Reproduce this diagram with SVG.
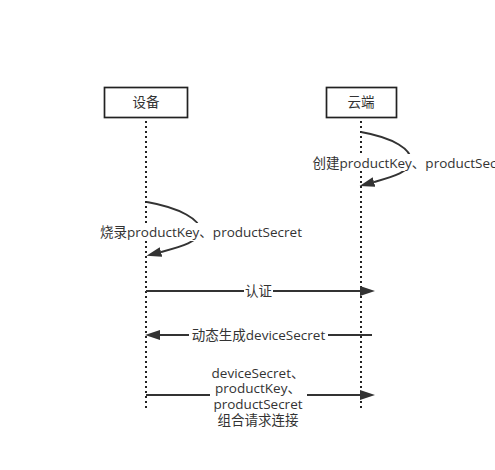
<svg xmlns="http://www.w3.org/2000/svg" width="495" height="470" viewBox="0 0 495 470">
<defs>
<style>
.box{fill:#fff;stroke:#222;stroke-width:1.7}
.life{stroke:#222;stroke-width:2;stroke-dasharray:2 3;fill:none}
.msg{stroke:#333;stroke-width:2;fill:none}
.t{font-family:"Open Sans","Noto Sans CJK SC",sans-serif;font-size:13.5px;fill:#333;text-anchor:middle}
.bg{fill:#fff}
</style>
<marker id="arr" markerUnits="userSpaceOnUse" markerWidth="16" markerHeight="11" refX="0" refY="5" orient="auto" viewBox="0 0 16 10">
<path d="M0,0 L15,5 L0,10 Z" fill="#333"/>
</marker>
</defs>
<rect width="495" height="470" fill="#fff"/>
<g id="device">
<rect class="box" x="104.5" y="87.5" width="83" height="30"/>
<text class="t" x="146" y="107">设备</text>
<line class="life" x1="146" y1="121" x2="146" y2="410"/>
</g>
<g id="cloud">
<rect class="box" x="326.5" y="87.5" width="70" height="30"/>
<text class="t" x="361" y="107">云端</text>
<line class="life" x1="361" y1="121" x2="361" y2="410"/>
</g>
<g id="connectors">
<path class="msg" d="M361,132 C395,138 411,150 411,160 C411,172 392,177 374,182" marker-end="url(#arr)"/>
<rect class="bg" x="308" y="154" width="200" height="17"/>
<text class="t" x="413.5" y="167.5">创建productKey、productSecret</text>

<path class="msg" d="M147,202 C181,208 200,220 200,230 C200,242 180,247 161,252" marker-end="url(#arr)"/>
<rect class="bg" x="97" y="223" width="209" height="18"/>
<text class="t" x="201" y="236.5">烧录productKey、productSecret</text>

<line class="msg" x1="146" y1="291" x2="360" y2="291" marker-end="url(#arr)"/>
<rect class="bg" x="244" y="283" width="29" height="17"/>
<text class="t" x="258.5" y="296">认证</text>

<line class="msg" x1="372" y1="335" x2="160" y2="335" marker-end="url(#arr)"/>
<rect class="bg" x="189" y="327" width="139" height="17"/>
<text class="t" x="258.5" y="340">动态生成deviceSecret</text>

<line class="msg" x1="146" y1="395" x2="360" y2="395" marker-end="url(#arr)"/>
<rect class="bg" x="210" y="364" width="97" height="64"/>
<text class="t" x="258" y="377.5">deviceSecret、</text>
<text class="t" x="258" y="393">productKey、</text>
<text class="t" x="258" y="408.5">productSecret</text>
<text class="t" x="258" y="425">组合请求连接</text>
</g>
</svg>
